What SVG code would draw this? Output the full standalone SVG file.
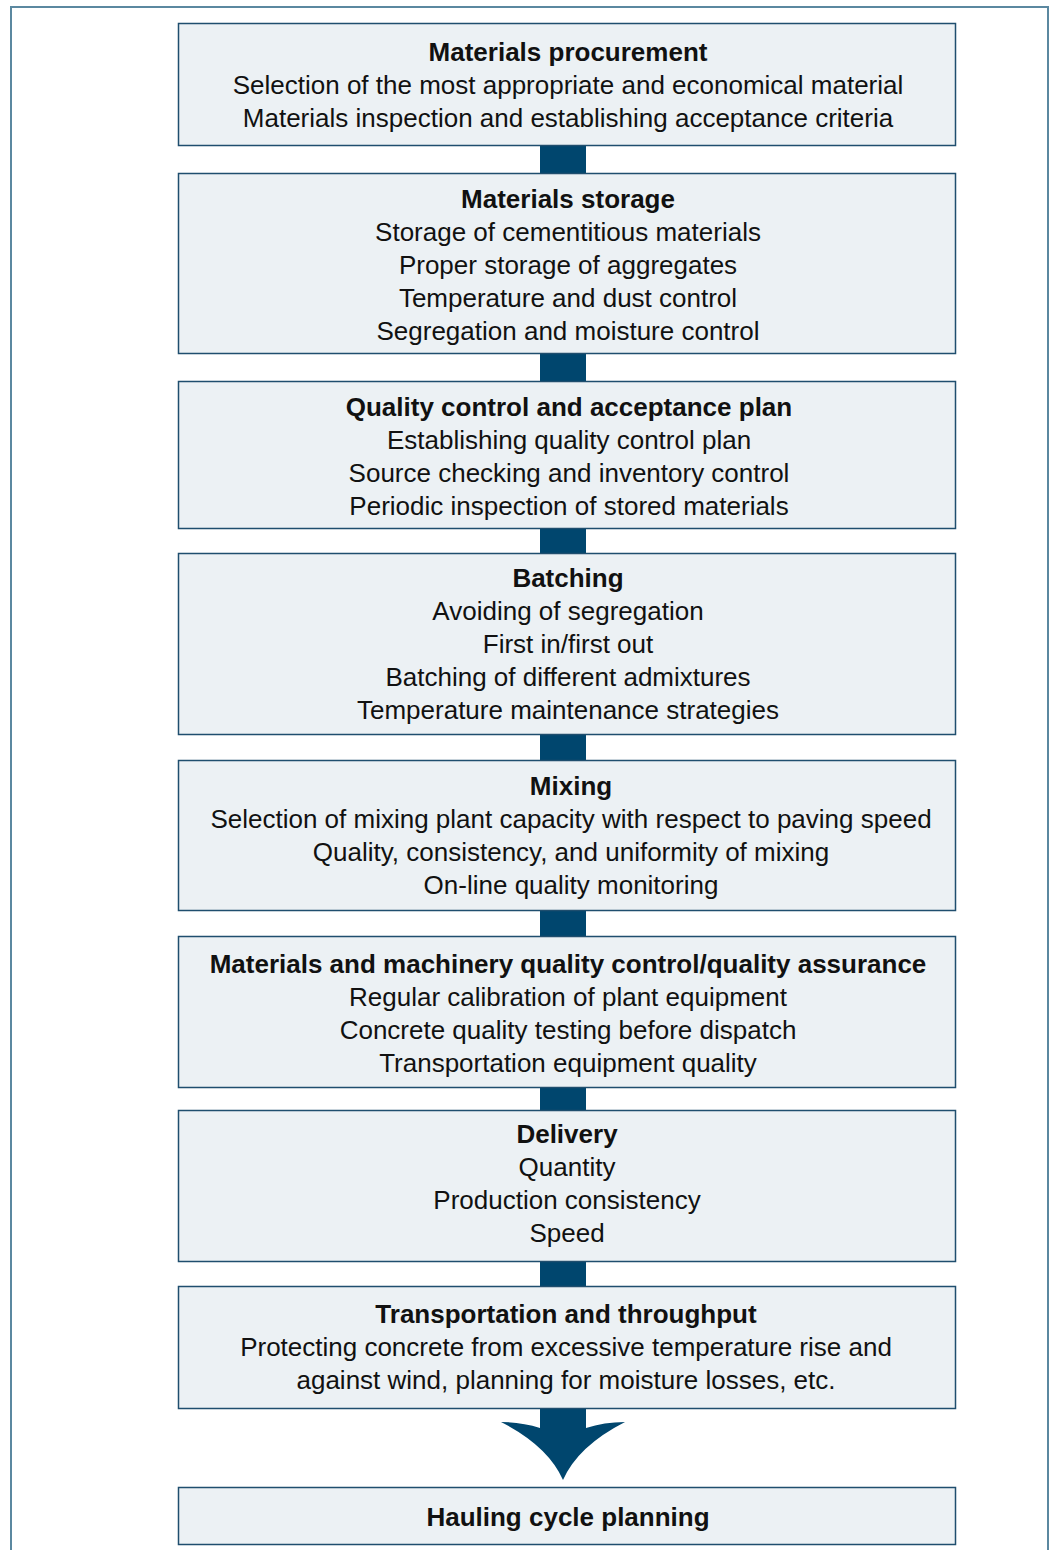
<svg xmlns="http://www.w3.org/2000/svg" width="1053" height="1550" viewBox="0 0 1053 1550">
<style>
.box{fill:#ecf1f4;stroke:#1f4e6e;stroke-width:1.5}
.bar{fill:#00466e}
text{font-family:"Liberation Sans",Arial,sans-serif;font-size:26px;fill:#111;text-anchor:middle}
.t{font-weight:bold}
</style>
<rect x="0" y="0" width="1053" height="1550" fill="#ffffff"/>
<path d="M11,1550 V7 H1048 V1550" fill="none" stroke="#5b88a0" stroke-width="2"/>
<g id="connectors">
<rect class="bar" x="540" y="146" width="46" height="27"/>
<rect class="bar" x="540" y="354" width="46" height="27"/>
<rect class="bar" x="540" y="529" width="46" height="24"/>
<rect class="bar" x="540" y="735" width="46" height="25"/>
<rect class="bar" x="540" y="911" width="46" height="25"/>
<rect class="bar" x="540" y="1088" width="46" height="22"/>
<rect class="bar" x="540" y="1262" width="46" height="24"/>
<path class="bar" d="M540,1409 H586 V1428 Q604,1422 625,1422 Q578,1446 563,1480 Q548,1446 501,1422 Q522,1422 540,1428 Z"/>
</g>
<g id="n1">
<rect class="box" x="178.5" y="23.5" width="777" height="122"/>
<text class="t" x="568" y="61">Materials procurement</text>
<text x="568" y="94">Selection of the most appropriate and economical material</text>
<text x="568" y="127">Materials inspection and establishing acceptance criteria</text>
</g>
<g id="n2">
<rect class="box" x="178.5" y="173.5" width="777" height="180"/>
<text class="t" x="568" y="208">Materials storage</text>
<text x="568" y="241">Storage of cementitious materials</text>
<text x="568" y="274">Proper storage of aggregates</text>
<text x="568" y="307">Temperature and dust control</text>
<text x="568" y="340">Segregation and moisture control</text>
</g>
<g id="n3">
<rect class="box" x="178.5" y="381.5" width="777" height="147"/>
<text class="t" x="569" y="416">Quality control and acceptance plan</text>
<text x="569" y="449">Establishing quality control plan</text>
<text x="569" y="482">Source checking and inventory control</text>
<text x="569" y="515">Periodic inspection of stored materials</text>
</g>
<g id="n4">
<rect class="box" x="178.5" y="553.5" width="777" height="181"/>
<text class="t" x="568" y="587">Batching</text>
<text x="568" y="620">Avoiding of segregation</text>
<text x="568" y="653">First in/first out</text>
<text x="568" y="686">Batching of different admixtures</text>
<text x="568" y="719">Temperature maintenance strategies</text>
</g>
<g id="n5">
<rect class="box" x="178.5" y="760.5" width="777" height="150"/>
<text class="t" x="571" y="795">Mixing</text>
<text x="571" y="828">Selection of mixing plant capacity with respect to paving speed</text>
<text x="571" y="861">Quality, consistency, and uniformity of mixing</text>
<text x="571" y="894">On-line quality monitoring</text>
</g>
<g id="n6">
<rect class="box" x="178.5" y="936.5" width="777" height="151"/>
<text class="t" x="568" y="973">Materials and machinery quality control/quality assurance</text>
<text x="568" y="1006">Regular calibration of plant equipment</text>
<text x="568" y="1039">Concrete quality testing before dispatch</text>
<text x="568" y="1072">Transportation equipment quality</text>
</g>
<g id="n7">
<rect class="box" x="178.5" y="1110.5" width="777" height="151"/>
<text class="t" x="567" y="1143">Delivery</text>
<text x="567" y="1176">Quantity</text>
<text x="567" y="1209">Production consistency</text>
<text x="567" y="1242">Speed</text>
</g>
<g id="n8">
<rect class="box" x="178.5" y="1286.5" width="777" height="122"/>
<text class="t" x="566" y="1323">Transportation and throughput</text>
<text x="566" y="1356">Protecting concrete from excessive temperature rise and</text>
<text x="566" y="1389">against wind, planning for moisture losses, etc.</text>
</g>
<g id="n9">
<rect class="box" x="178.5" y="1487.5" width="777" height="57"/>
<text class="t" x="568" y="1526">Hauling cycle planning</text>
</g>
</svg>
